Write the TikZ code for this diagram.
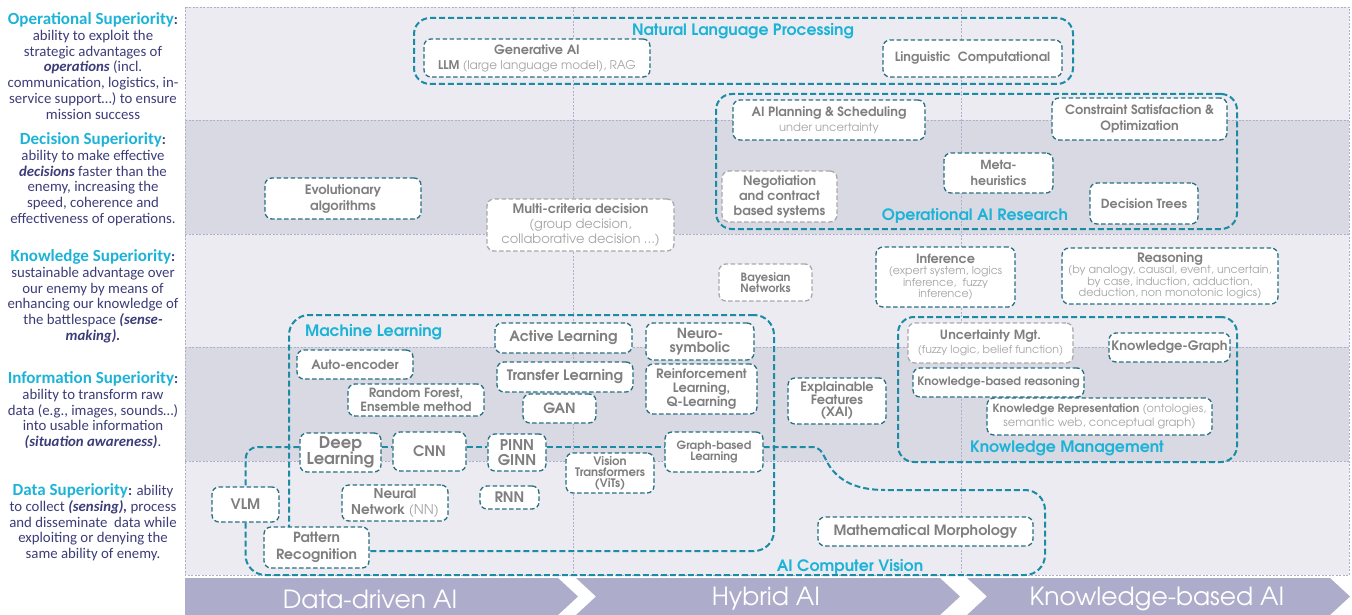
\documentclass[tikz,border=0pt]{standalone}
\usepackage{fontspec}
\newfontfamily\cg{TeX Gyre Adventor}
\newfontfamily\lc{Carlito}
\definecolor{bandA}{HTML}{EBEBF1}
\definecolor{bandB}{HTML}{D9D9E3}
\definecolor{gridc}{HTML}{AFAFCB}
\definecolor{chev}{HTML}{ADADCB}
\definecolor{grpteal}{HTML}{1A8CA3}
\definecolor{nodeteal}{HTML}{286F82}
\definecolor{labcyan}{HTML}{1DB3D7}
\definecolor{txtgray}{HTML}{7F7F7F}
\definecolor{txtlight}{HTML}{A6A6A6}
\definecolor{boxgray}{HTML}{A9A9A9}
\definecolor{navy}{HTML}{3C3C78}
\newcommand\nodefont{\cg\bfseries\fontsize{12.8}{15}\selectfont}
\newcommand\lt[1]{{\mdseries\color{txtlight}#1}}
\newcommand\ttl[1]{{\color{labcyan}\fontsize{17}{15.8}\selectfont\bfseries #1}\textbf{:}}
\newcommand\bi[1]{\textbf{\textit{#1}}}
\newcommand\fsz[2]{\fontsize{#1}{#2}\selectfont}
\newcommand\bx[7][]{%
\pgfmathsetmacro\bxcx{(#3+#5)/2}%
\pgfmathsetmacro\bxcy{(#4+#6)/2}%
\pgfmathsetmacro\bxww{#5-#3}%
\pgfmathsetmacro\bxhh{#6-#4}%
\node[nb,minimum width=\bxww pt,minimum height=\bxhh pt,#1] (#2) at (\bxcx,\bxcy) {#7};}
\tikzset{
 nb/.style={draw=nodeteal, line width=1.3pt, dash pattern=on 4.5pt off 2.5pt, rounded corners=7pt, fill=white, inner sep=0pt, align=center, text=txtgray, font=\nodefont},
 graybox/.style={draw=boxgray},
 fz/.style 2 args={font=\cg\bfseries\fontsize{#1}{#2}\selectfont},
 grpbox/.style={nb, draw=grpteal, line width=2pt, dash pattern=on 6pt off 3pt, fill=none, rounded corners=16pt},
 grp/.style={draw=grpteal, line width=2pt, dash pattern=on 6pt off 3pt},
 glab/.style={text=labcyan, font=\cg\bfseries\fontsize{15.7}{17}\selectfont, inner sep=0pt},
 gridline/.style={draw=gridc, line width=0.6pt, dash pattern=on 2pt off 1.5pt},
 lefttxt/.style={align=center, text=navy, font=\lc\fontsize{14.8}{15.8}\selectfont, inner sep=0pt, anchor=north},
 chevtxt/.style={text=white, font=\cg\fontsize{25}{27}\selectfont, inner sep=0pt}
}
\begin{document}
\begin{tikzpicture}[x=1pt,y=-1pt]
\useasboundingbox (0,0) rectangle (1352,615);
% bands
\fill[bandA] (185,7) rectangle (1349,120);
\fill[bandB] (185,120) rectangle (1349,234);
\fill[bandA] (185,234) rectangle (1349,347);
\fill[bandB] (185,347) rectangle (1349,461);
\fill[bandA] (185,461) rectangle (1349,575);
\draw[gridline] (185,7) rectangle (1349,575);
\draw[gridline] (185,120) -- (1349,120);
\draw[gridline] (185,234) -- (1349,234);
\draw[gridline] (185,347) -- (1349,347);
\draw[gridline] (185,461) -- (1349,461);
\draw[gridline] (573,7) -- (573,575);
\draw[gridline] (961,7) -- (961,575);
% chevrons
\fill[chev] (185,578) -- (558,578) -- (578,596.5) -- (558,615) -- (185,615) -- cycle;
\fill[chev] (576,578) -- (940,578) -- (960,596.5) -- (940,615) -- (576,615) -- (596,596.5) -- cycle;
\fill[chev] (967,578) -- (1330,578) -- (1350,596.5) -- (1330,615) -- (967,615) -- (987,596.5) -- cycle;
\node[chevtxt] (c1) at (370,599) {Data-driven AI};
\node[chevtxt] (c2) at (766,599) {Hybrid AI};
\node[chevtxt] (c3) at (1157,599) {Knowledge-based AI};
% left column
\node[lefttxt] (t1) at (93,12.3) {\ttl{Operational Superiority}\\ ability to exploit the\\ strategic advantages of\\ \bi{operations} (incl.\\ communication, logistics, in-\\ service support…) to ensure\\ mission success};
\node[lefttxt] (t2) at (93,132.3) {\ttl{Decision Superiority}\\ ability to make effective\\ \bi{decisions} faster than the\\ enemy, increasing the\\ speed, coherence and\\ effectiveness of operations.};
\node[lefttxt] (t3) at (93,249.3) {\ttl{Knowledge Superiority}\\ sustainable advantage over\\ our enemy by means of\\ enhancing our knowledge of\\ the battlespace \bi{(sense-}\\ \bi{making).}};
\node[lefttxt] (t4) at (93,371.3) {\ttl{Information Superiority}\\ ability to transform raw\\ data (e.g., images, sounds…)\\ into usable information\\ \bi{(situation awareness)}.};
\node[lefttxt] (t5) at (93,483.3) {\ttl{Data Superiority} ability\\ to collect \bi{(sensing),} process\\ and disseminate\ \ data while\\ exploiting or denying the\\ same ability of enemy.};
% groups
\bx[grpbox]{nlp}{414}{18}{1073}{84}{}
\bx[grpbox]{oar}{716}{94}{1237}{229}{}
\bx[grpbox]{km}{898}{317}{1237}{462}{}
\bx[grpbox,rounded corners=20pt]{ml}{289}{315}{774}{551}{}
% nodes
\bx{gen}{424}{39}{650}{77}{Generative AI\\ {\fsz{12}{15}LLM \lt{(large language model), RAG}}}
\bx[fz={12.7}{15}]{ling}{883}{40}{1062}{77}{Linguistic\ \ Computational}
\bx{plan}{733}{100}{925}{140}{AI Planning \& Scheduling\\ \lt{\fsz{11.5}{14}under uncertainty}}
\bx[fz={12.8}{16}]{cons}{1052}{98}{1227}{140}{Constraint Satisfaction \&\\ Optimization}
\bx[fz={12.5}{16}]{meta}{944}{153}{1053}{193}{Meta-\\ heuristics}
\bx[graybox,fz={12.9}{15}]{nego}{722}{171}{837}{222}{Negotiation\\ and contract\\ based systems}
\bx[fz={12.6}{15}]{dtree}{1090}{183}{1198}{224}{Decision Trees}
\bx[fz={13}{16}]{evo}{265}{178}{421}{219}{Evolutionary\\ algorithms}
\bx[graybox,fz={13}{15}]{multi}{487}{199}{674}{251}{Multi-criteria decision\\ \lt{(group decision,}\\ \lt{collaborative decision …)}}
\bx[graybox,fz={11.4}{11.5}]{bayes}{719}{264}{812}{301}{Bayesian\\ Networks}
\bx[fz={11}{11.5}]{infer}{876}{247}{1015}{307}{{\fsz{12.8}{12}Inference}\\ \lt{(expert system, logics}\\ \lt{inference,\ \ fuzzy}\\ \lt{inference)}}
\bx[fz={11.1}{11.5}]{reas}{1062}{248}{1278}{304}{{\fsz{13}{12}Reasoning}\\ \lt{(by analogy, causal, event, uncertain,}\\ \lt{by case, induction, adduction,}\\ \lt{deduction, non monotonic logics)}}
\bx[graybox,fz={12.7}{14}]{unc}{908}{323}{1073}{363}{Uncertainty Mgt.\\ \lt{\fsz{11}{14}(fuzzy logic, belief function)}}
\bx[fz={13}{15}]{kg}{1109}{333}{1230}{362}{Knowledge-Graph}
\bx[fz={11.6}{14}]{kbr}{913}{368}{1084}{397}{Knowledge-based reasoning}
\bx[fz={11.3}{14}]{krep}{987}{398}{1212}{435}{Knowledge Representation \lt{(ontologies,}\\ \lt{\fsz{11.5}{14}semantic web, conceptual graph)}}
\bx[fz={12.9}{12.5}]{xai}{788}{378}{886}{424}{Explainable\\ Features\\ (XAI)}
\bx[fz={12.8}{15}]{auto}{297}{350}{413}{379}{Auto-encoder}
\bx[fz={12.7}{13.5}]{rf}{348}{384}{484}{416}{Random Forest,\\ Ensemble method}
\bx[fz={14.4}{16}]{al}{495}{323}{632}{353}{Active Learning}
\bx[fz={14.4}{16}]{tl}{497}{362}{633}{392}{Transfer Learning}
\bx[fz={14.2}{16}]{gan}{523}{394}{596}{423}{GAN}
\bx[fz={13.9}{14.5}]{neuro}{646}{323}{754}{360}{Neuro-\\ symbolic}
\bx[fz={12.9}{14}]{rl}{646}{364}{757}{414}{Reinforcement\\ Learning,\\ Q-Learning}
\bx[fz={16.3}{16.5}]{dl}{300}{433}{381}{472}{Deep\\ Learning}
\bx[fz={14.5}{16}]{cnn}{393}{432}{466}{471}{CNN}
\bx[fz={14.8}{15}]{pinn}{488}{434}{546}{471}{PINN\\ GINN}
\bx[fz={11.7}{11}]{vit}{566}{453}{654}{493}{Vision\\ Transformers\\ (ViTs)}
\bx[fz={11.4}{11}]{gbl}{665}{432}{763}{472}{Graph-based\\ Learning}
\bx[fz={13.5}{16}]{nn}{342}{485}{448}{521}{Neural\\ Network \lt{(NN)}}
\bx[fz={14.5}{16}]{rnn}{480}{486}{539}{509}{RNN}
\bx[fz={14}{17}]{pr}{264}{527}{369}{568}{Pattern\\ Recognition}
\bx[fz={14.5}{16}]{vlm}{212}{487}{279}{522}{VLM}
\bx[fz={14.2}{16}]{mm}{818}{517}{1033}{546}{Mathematical Morphology}
% AI computer vision connectors
\coordinate (ycv) at (0,447);
\coordinate (ybot) at (0,575);
\draw[grp] (dl.east|-ycv) -- (cnn.west|-ycv);
\draw[grp] (cnn.east|-ycv) -- (pinn.west|-ycv);
\draw[grp] (pinn.east|-ycv) -- (gbl.west|-ycv);
\draw[grp,rounded corners=12pt] (dl.west|-ycv) -- (vlm.north|-ycv) -- (vlm.north);
\draw[grp,rounded corners=20pt] (vlm.south) -- (vlm.south|-ybot) -- (1045,575) -- (1045,490) -- (885,490);
\draw[grp] (gbl.east|-ycv) -- (812,447) .. controls (820,447) and (822,452) .. (826,460) .. controls (835,478) and (852,490) .. (885,490);
% group labels
\node[glab] (nlpl) at (743,31) {Natural Language Processing};
\node[glab] (oarl) at (975,216) {Operational AI Research};
\node[glab,anchor=west] (mll) at (305,332) {Machine Learning};
\node[glab] (kml) at (1067,448) {Knowledge Management};
\node[glab] (cvl) at (850,567) {AI Computer Vision};
\end{tikzpicture}
\end{document}
